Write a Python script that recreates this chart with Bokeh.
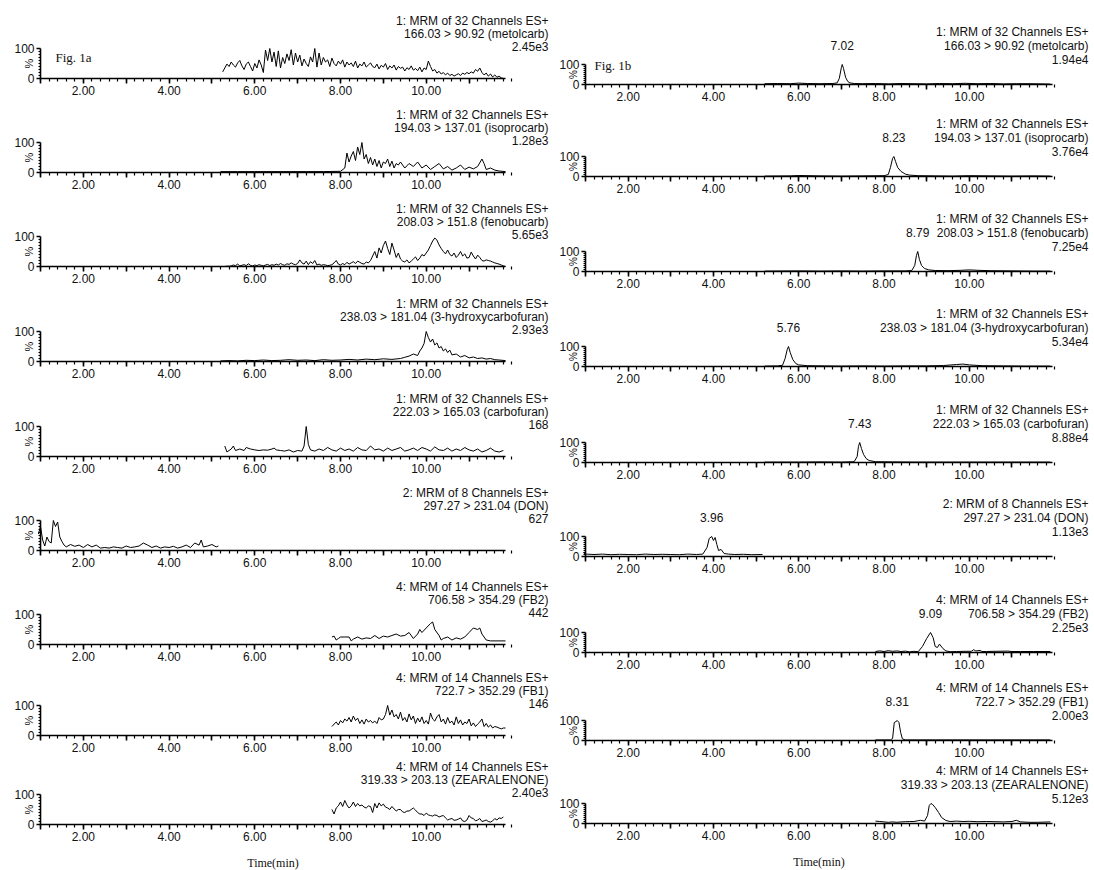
from math import pi
from bokeh.plotting import figure
from bokeh.layouts import row, column
from bokeh.models import Range1d, FixedTicker, Label
from bokeh.embed import file_html
from bokeh.resources import INLINE

# ---------------- data ----------------
channels = ["1: MRM of 32 Channels ES+", "1: MRM of 32 Channels ES+", "1: MRM of 32 Channels ES+",
            "1: MRM of 32 Channels ES+", "1: MRM of 32 Channels ES+", "2: MRM of 8 Channels ES+",
            "4: MRM of 14 Channels ES+", "4: MRM of 14 Channels ES+", "4: MRM of 14 Channels ES+"]
transitions = ["166.03 > 90.92 (metolcarb)", "194.03 > 137.01 (isoprocarb)", "208.03 > 151.8 (fenobucarb)",
               "238.03 > 181.04 (3-hydroxycarbofuran)", "222.03 > 165.03 (carbofuran)", "297.27 > 231.04 (DON)",
               "706.58 > 354.29 (FB2)", "722.7 > 352.29 (FB1)", "319.33 > 203.13 (ZEARALENONE)"]
left_intensity = ["2.45e3", "1.28e3", "5.65e3", "2.93e3", "168", "627", "442", "146", "2.40e3"]
right_intensity = ["1.94e4", "3.76e4", "7.25e4", "5.34e4", "8.88e4", "1.13e3", "2.25e3", "2.00e3", "5.12e3"]
right_peak_rt = [7.02, 8.23, 8.79, 5.76, 7.43, 3.96, 9.09, 8.31, None]
x_ticks_min = [1, 2, 3, 4, 5, 6, 7, 8, 9, 10, 11]


def grid(t0, dt, n):
    return [round(t0 + dt * k, 3) for k in range(n)]


# Fig. 1a traces, relative intensity %
L1_v = [22, 35, 48, 40, 55, 45, 38, 52, 60, 42, 30, 48, 55, 40, 25, 50, 35, 62, 45, 20,
        95, 60, 100, 55, 88, 40, 92, 35, 70, 50, 82, 60, 96, 45, 85, 55, 78, 42, 65, 50,
        40, 72, 55, 100, 38, 85, 45, 70, 55, 62, 40, 68, 50, 42, 58, 48, 62, 38, 55, 45,
        52, 40, 58, 35, 48, 42, 55, 38, 45, 52, 40, 36, 48, 32, 44, 38, 50, 30, 42, 35,
        45, 28, 40, 34, 38, 25, 36, 30, 42, 28, 33, 26, 38, 22, 35, 30, 58, 40, 25, 30,
        18, 24, 15, 20, 12, 18, 10, 14, 8, 12, 16, 10, 18, 14, 20, 16, 22, 18, 30, 24,
        35, 20, 12, 18, 8, 15, 5, 12, 4, 8, 2, 0]
L1_t = grid(5.25, 0.05, len(L1_v))

L2_t = [5.2, 5.6, 6.0, 6.4, 6.8, 7.2, 7.6, 8.0,
        8.1, 8.15, 8.2, 8.25, 8.3, 8.35, 8.4, 8.45, 8.5, 8.55, 8.6, 8.65, 8.7, 8.75, 8.8, 8.85, 8.9, 8.95,
        9.0, 9.05, 9.1, 9.15, 9.2, 9.25, 9.3, 9.35, 9.4,
        9.5, 9.6, 9.7, 9.8, 9.9, 10.0, 10.1, 10.2, 10.3, 10.4, 10.5, 10.6, 10.7, 10.8, 10.9, 11.0, 11.1, 11.2, 11.3,
        11.35, 11.4, 11.5, 11.6, 11.7, 11.85]
L2_v = [3, 3, 3, 3, 3, 3, 3, 4,
        15, 65, 35, 55, 70, 40, 85, 60, 100, 45, 60, 30, 50, 25, 45, 20, 40, 15,
        35, 30, 45, 20, 38, 15, 30, 25, 35,
        15, 30, 20, 35, 15, 25, 10, 20, 30, 12, 20, 8, 15, 25, 10, 18, 12, 20, 45,
        30, 10, 15, 8, 5, 3]

L3_v = [0, 0, 0, 1, 1, 2,
        5, 3, 8, 2, 4, 6, 3, 9, 4, 2,
        5, 3, 6, 4, 2, 5, 7, 3, 6, 4,
        8, 5, 10, 6, 4, 9, 7, 12, 8, 6,
        10, 22, 12, 8, 18, 6, 16, 10, 20, 5,
        8, 4, 6, 5, 3, 4, 6, 12, 20, 8,
        5, 10, 6, 14, 8, 12, 16, 10, 18, 14,
        10, 8, 15, 12, 20, 35, 50, 28, 62, 45,
        70, 85, 60, 40, 78, 55, 30, 45, 25, 18,
        15, 22, 12, 18, 25, 32, 20, 28, 40, 35,
        45, 55, 70, 85, 95, 88, 72, 60, 50, 42,
        55, 40, 35, 45, 30, 38, 50, 35, 42, 28,
        30, 48, 35, 25, 38, 30, 20, 18, 22, 20,
        18, 15, 12, 10, 8, 5, 2, 0]
L3_t = grid(5.2, 0.05, len(L3_v))

L4_t = [5.2, 5.4, 5.6, 5.8, 6.0, 6.2, 6.4, 6.6, 6.8, 7.0, 7.2, 7.4, 7.6, 7.8, 8.0, 8.2, 8.4, 8.6, 8.8, 9.0,
        9.2, 9.4, 9.5, 9.6, 9.7, 9.8, 9.85, 9.9, 9.95, 10.0, 10.05, 10.1, 10.15, 10.2, 10.25, 10.3, 10.35,
        10.4, 10.45, 10.5, 10.55, 10.6, 10.7, 10.8, 10.9, 11.0, 11.1, 11.2, 11.3, 11.4, 11.5, 11.6, 11.7, 11.85]
L4_v = [2, 3, 2, 4, 3, 5, 3, 4, 6, 4, 5, 3, 6, 4, 5, 7, 5, 8, 6, 9,
        7, 10, 14, 18, 25, 20, 35, 45, 60, 100, 80, 65, 75, 55, 62, 45, 50,
        35, 42, 30, 38, 22, 25, 15, 20, 12, 15, 10, 12, 8, 10, 6, 5, 3]

L5_t = [5.3, 5.35, 5.45, 5.5, 5.55, 5.65, 5.75, 5.8, 5.9, 6.0, 6.1, 6.2, 6.3, 6.4, 6.45, 6.5, 6.6, 6.7, 6.8, 6.9,
        7.0, 7.1, 7.15, 7.2, 7.25, 7.3, 7.4, 7.5, 7.6, 7.7, 7.8, 7.9, 8.0, 8.1, 8.2, 8.3, 8.4, 8.5, 8.6, 8.7,
        8.8, 8.9, 9.0, 9.1, 9.2, 9.3, 9.4, 9.5, 9.6, 9.7, 9.8, 9.9, 10.0, 10.1, 10.2, 10.3, 10.4, 10.5, 10.6,
        10.7, 10.8, 10.9, 11.0, 11.1, 11.2, 11.3, 11.4, 11.5, 11.6, 11.7, 11.8]
L5_v = [35, 15, 25, 35, 20, 25, 20, 30, 25, 22, 20, 22, 21, 25, 28, 22, 20, 18, 22, 15,
        20, 18, 35, 100, 40, 22, 18, 25, 20, 30, 22, 18, 28, 20, 25, 18, 30, 22, 20, 35,
        22, 25, 18, 28, 20, 25, 30, 18, 22, 28, 20, 30, 25, 18, 32, 22, 20, 28, 18,
        25, 20, 30, 22, 18, 25, 15, 20, 28, 18, 15, 20]

L6_t = [0.95, 1.0, 1.05, 1.1, 1.15, 1.2, 1.25, 1.3, 1.35, 1.4, 1.45, 1.5, 1.55, 1.6,
        1.7, 1.8, 1.9, 2.0, 2.1, 2.2, 2.3, 2.4, 2.5, 2.6, 2.7, 2.8, 2.9, 3.0, 3.1, 3.2, 3.3, 3.4, 3.5,
        3.6, 3.7, 3.8, 3.9, 4.0, 4.1, 4.2, 4.3, 4.4, 4.5, 4.6, 4.7, 4.75, 4.8, 4.9, 5.0, 5.1, 5.15]
L6_v = [55, 80, 35, 15, 45, 30, 25, 100, 80, 95, 45, 30, 18, 12,
        20, 14, 18, 10, 20, 12, 18, 8, 10, 8, 12, 10, 8, 15, 10, 12, 15, 25, 18,
        10, 15, 8, 12, 10, 14, 8, 12, 18, 10, 25, 18, 35, 12, 15, 20, 12, 15]

L7_t = [7.8, 7.85, 7.9, 7.95, 8.0, 8.1, 8.2, 8.25, 8.3, 8.4, 8.5, 8.6, 8.7, 8.8, 8.9, 9.0, 9.1, 9.2, 9.3,
        9.4, 9.5, 9.6, 9.7, 9.8, 9.85, 9.9, 10.0, 10.1, 10.15, 10.2, 10.3, 10.35, 10.4, 10.5, 10.6, 10.7,
        10.8, 10.9, 11.0, 11.1, 11.2, 11.25, 11.3, 11.4, 11.5, 11.85]
L7_v = [25, 28, 15, 20, 25, 25, 25, 12, 18, 25, 18, 22, 20, 30, 20, 28, 25, 30, 35,
        28, 30, 40, 20, 35, 50, 40, 55, 70, 75, 50, 30, 15, 20, 25, 15, 22,
        18, 25, 40, 55, 50, 55, 35, 15, 12, 12]

L8_v = [30, 38, 45, 35, 50, 42, 55, 48, 60, 45,
        65, 50, 58, 40, 52, 38, 55, 45, 50, 42,
        48, 40, 60, 52, 55, 70, 100, 68, 85, 62,
        70, 55, 78, 50, 60, 45, 72, 52, 65, 40,
        58, 45, 62, 40, 50, 38, 75, 55, 48, 62,
        70, 45, 55, 38, 60, 42, 48, 35, 62, 40,
        52, 35, 45, 40, 55, 32, 42, 30, 38, 45,
        55, 30, 40, 28, 35, 25, 30, 28, 25, 22,
        25, 25]
L8_t = grid(7.8, 0.05, len(L8_v))

L9_v = [50, 35, 55, 62, 75, 60, 80, 65, 55, 62,
        75, 60, 70, 62, 65, 58, 55, 62, 60, 40,
        70, 55, 72, 62, 68, 58, 55, 50, 60, 52,
        45, 50, 50, 42, 40, 45, 45, 50, 55, 48,
        40, 35, 35, 30, 38, 32, 30, 28, 32, 30,
        25, 28, 30, 22, 15, 18, 20, 14, 15, 18,
        22, 12, 10, 15, 30, 22, 20, 12, 15, 20,
        10, 12, 15, 10, 8, 12, 20, 15, 22, 20,
        25]
L9_t = grid(7.8, 0.05, len(L9_v))

# Fig. 1b traces
R1_t = [5.2, 5.5, 5.8, 6.0, 6.2, 6.5, 6.8, 6.9, 6.95, 7.0, 7.02, 7.05, 7.1, 7.15, 7.2, 7.3, 7.5, 7.8, 8.1, 8.4,
        8.7, 9.0, 9.3, 9.6, 9.9, 10.2, 10.5, 10.8, 11.1, 11.4, 11.7, 11.9]
R1_v = [4, 5, 4, 7, 5, 4, 5, 8, 30, 85, 100, 80, 35, 15, 8, 5, 4, 5, 3, 5,
        4, 3, 5, 4, 6, 4, 5, 3, 4, 4, 3, 2]
R2_t = [5.2, 5.8, 6.0, 6.5, 7.0, 7.5, 8.0, 8.1, 8.15, 8.2, 8.23, 8.27, 8.32, 8.4, 8.5, 8.6, 8.8, 9.2, 9.6,
        10.0, 10.5, 11.0, 11.5, 11.9]
R2_v = [2, 3, 5, 3, 2, 3, 4, 10, 45, 90, 100, 75, 45, 25, 12, 7, 4, 3, 2, 4, 3, 2, 3, 2]
R3_t = [5.2, 6.0, 6.5, 7.0, 7.5, 8.0, 8.5, 8.65, 8.72, 8.76, 8.79, 8.83, 8.88, 8.95, 9.05, 9.2, 9.5, 9.8,
        10.0, 10.2, 10.5, 11.0, 11.5, 11.9]
R3_v = [2, 3, 2, 3, 2, 3, 3, 5, 30, 80, 100, 60, 30, 15, 8, 5, 4, 6, 8, 6, 4, 3, 2, 2]
R4_t = [5.2, 5.5, 5.62, 5.68, 5.73, 5.76, 5.8, 5.86, 5.93, 6.0, 6.2, 6.6, 7.0, 7.5, 8.0, 8.5, 9.0, 9.4, 9.7,
        9.85, 10.0, 10.3, 10.8, 11.3, 11.9]
R4_v = [2, 3, 6, 40, 85, 100, 70, 35, 15, 8, 4, 3, 2, 3, 2, 3, 3, 5, 10, 12, 8, 4, 3, 2, 2]
R5_t = [5.2, 6.0, 6.5, 7.0, 7.3, 7.37, 7.4, 7.43, 7.47, 7.52, 7.58, 7.65, 7.8, 8.2, 8.8, 9.5, 10.2, 11.0, 11.9]
R5_v = [2, 2, 3, 2, 4, 30, 80, 100, 70, 40, 20, 10, 4, 3, 2, 2, 2, 2, 2]
R6_t = [0.95, 1.0, 1.2, 1.4, 1.6, 1.8, 2.0, 2.2, 2.4, 2.6, 2.8, 3.0, 3.2, 3.4, 3.6, 3.75, 3.85, 3.9, 3.96, 4.0,
        4.04, 4.08, 4.12, 4.18, 4.25, 4.35, 4.5, 4.7, 4.9, 5.15]
R6_v = [20, 12, 10, 12, 9, 11, 10, 9, 12, 10, 11, 10, 9, 12, 10, 12, 45, 90, 100, 80,
        95, 60, 30, 35, 15, 12, 10, 11, 9, 10]
R7_t = [7.8, 7.9, 8.0, 8.1, 8.2, 8.3, 8.4, 8.5, 8.6, 8.7, 8.8, 8.9, 9.0, 9.09, 9.15, 9.2, 9.25, 9.3, 9.38, 9.45,
        9.55, 9.7, 9.9, 10.05, 10.1, 10.15, 10.25, 10.3, 10.4, 10.6, 10.9, 11.0, 11.2, 11.5, 11.9]
R7_v = [5, 8, 5, 9, 6, 8, 5, 7, 3, 6, 4, 30, 70, 100, 75, 30, 25, 42, 20, 8,
        4, 5, 6, 6, 14, 8, 10, 5, 5, 6, 7, 5, 5, 5, 5]
R8_t = [7.8, 8.0, 8.15, 8.2, 8.24, 8.28, 8.31, 8.35, 8.39, 8.43, 8.5, 8.8, 9.2, 9.6, 10.0, 10.5, 11.0, 11.5, 11.9]
R8_v = [3, 3, 3, 10, 90, 95, 100, 90, 40, 8, 3, 3, 3, 3, 3, 3, 3, 3, 3]
R9_t = [7.8, 7.9, 8.0, 8.1, 8.2, 8.3, 8.4, 8.5, 8.6, 8.7, 8.8, 8.85, 8.95, 9.02, 9.06, 9.1, 9.14, 9.2, 9.28, 9.35,
        9.45, 9.55, 9.7, 9.85, 10.0, 10.2, 10.4, 10.6, 10.8, 11.0, 11.1, 11.2, 11.4, 11.6, 11.9]
R9_v = [12, 10, 8, 6, 8, 6, 8, 9, 10, 10, 14, 16, 12, 40, 90, 100, 95, 80, 55, 30,
        15, 10, 12, 10, 11, 9, 10, 9, 8, 10, 16, 8, 6, 6, 8]

left_traces = [(L1_t, L1_v), (L2_t, L2_v), (L3_t, L3_v), (L4_t, L4_v), (L5_t, L5_v),
               (L6_t, L6_v), (L7_t, L7_v), (L8_t, L8_v), (L9_t, L9_v)]
right_traces = [(R1_t, R1_v), (R2_t, R2_v), (R3_t, R3_v), (R4_t, R4_v), (R5_t, R5_v),
                (R6_t, R6_v), (R7_t, R7_v), (R8_t, R8_v), (R9_t, R9_v)]

# ---------------- layout / style ----------------
SANS = "Liberation Sans"
SERIF = "Liberation Serif"
INK = "#111111"

LEFT = dict(x0=1.0, x1=11.85, bl=40, fw=465, br=51, fh=30, title_dx=43,
            dy=(58, 45, 32), zeros=[78, 172, 266, 361, 456, 550, 644, 735, 824],
            fig="Fig. 1a", fig_dx=15, fig_dy=21, pct_size="11px")
RIGHT = dict(x0=1.0, x1=11.95, bl=29, fw=467, br=38, fh=20, title_dx=36,
             dy=(53, 39, 25), zeros=[84, 176, 271, 366, 462, 556, 652, 740, 823],
             fig="Fig. 1b", fig_dx=9, fig_dy=19, pct_size="10px")


def build(cfg, traces, intens, peaks):
    figs = []
    prev_bottom = 0
    x0, x1, fw, fh = cfg["x0"], cfg["x1"], cfg["fw"], cfg["fh"]
    sx = (x1 - x0) / fw
    sy = 100.0 / fh
    for i in range(9):
        last = i == 8
        bb = 46 if last else 24
        bottom = cfg["zeros"][i] + bb
        h = bottom - prev_bottom
        bt = h - fh - bb
        prev_bottom = bottom
        w = cfg["bl"] + fw + cfg["br"]
        # the frame covers the whole panel (header, left gutter, tick-label strip);
        # both axes sit at fixed data locations and are limited with bounds
        y_top = 100.0 * (bt + fh) / fh
        y_bot = -bb * sy
        x_left = x0 - cfg["bl"] * sx
        x_right = x1 + cfg["br"] * sx
        p = figure(width=w, height=h, x_range=Range1d(x_left, x_right), y_range=Range1d(y_bot, y_top),
                   output_backend="svg", toolbar_location=None,
                   min_border_left=0, min_border_right=0,
                   min_border_top=0, min_border_bottom=0)
        p.outline_line_color = None
        p.xgrid.visible = False
        p.ygrid.visible = False
        p.background_fill_color = "white"
        p.border_fill_color = "white"

        xa = p.xaxis[0]
        xa.fixed_location = 0
        xa.bounds = (x0, x1)
        xa.ticker = FixedTicker(ticks=x_ticks_min,
                                minor_ticks=[round(1 + 0.2 * k, 2) for k in range(56)])
        xa.major_label_overrides = {k: (f"{k:.2f}" if k % 2 == 0 else "") for k in x_ticks_min}
        xa.major_label_text_font = SANS
        xa.major_label_text_font_size = "12px"
        xa.major_label_text_color = INK
        xa.major_label_standoff = 2
        xa.axis_line_width = 1.6
        xa.major_tick_line_width = 1.6
        xa.minor_tick_line_width = 1.2
        xa.major_tick_out = 5
        xa.major_tick_in = 0
        xa.minor_tick_out = 3
        xa.minor_tick_in = 0

        ya = p.yaxis[0]
        ya.fixed_location = x0
        ya.bounds = (0, 100)
        ya.ticker = FixedTicker(ticks=[0, 100], minor_ticks=[10, 20, 30, 40, 50, 60, 70, 80, 90])
        ya.major_label_text_font = SANS
        ya.major_label_text_font_size = "12px"
        ya.major_label_text_color = INK
        ya.major_label_standoff = 2
        ya.axis_line_width = 1.6
        ya.major_tick_line_width = 1.6
        ya.major_tick_out = 4
        ya.major_tick_in = 0
        ya.minor_tick_out = 2
        ya.minor_tick_in = 0

        t, v = traces[i]
        n = min(len(t), len(v))
        p.line(t[:n], v[:n], line_color="black", line_width=1)

        xr = x1 + cfg["title_dx"] * sx
        d1, d2, d3 = cfg["dy"]
        for txt, d in ((channels[i], d1), (transitions[i], d2), (intens[i], d3)):
            p.add_layout(Label(x=xr, y=d * sy, text=txt, text_align="right", text_baseline="middle",
                               text_font=SANS, text_font_size="12px", text_color=INK))
        if peaks is not None and peaks[i] is not None:
            p.add_layout(Label(x=peaks[i], y=d2 * sy, text=f"{peaks[i]:.2f}", text_align="center",
                               text_baseline="middle", text_font=SANS, text_font_size="12px",
                               text_color=INK))
        p.add_layout(Label(x=x0 - 12 * sx, y=50, text="%", angle=pi / 2, text_align="center",
                           text_baseline="middle", text_font=SANS, text_font_size=cfg["pct_size"],
                           text_color=INK))
        if i == 0:
            p.add_layout(Label(x=x0 + cfg["fig_dx"] * sx, y=cfg["fig_dy"] * sy, text=cfg["fig"],
                               text_align="left", text_baseline="middle", text_font=SERIF,
                               text_font_size="13px", text_color=INK))
        if last:
            p.add_layout(Label(x=(x0 + x1) / 2, y=-38 * sy, text="Time(min)", text_align="center",
                               text_baseline="middle", text_font=SERIF, text_font_size="12px",
                               text_color=INK))
        figs.append(p)
    return figs


left_figs = build(LEFT, left_traces, left_intensity, None)
right_figs = build(RIGHT, right_traces, right_intensity, right_peak_rt)

layout = row(column(*left_figs, spacing=0), column(*right_figs, spacing=0), spacing=0)

open("out.html", "w").write(file_html(layout, INLINE))
